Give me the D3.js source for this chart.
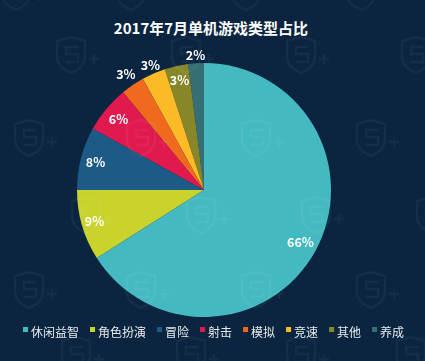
<!DOCTYPE html>
<html>
<head>
<meta charset="utf-8">
<script src="https://cdn.jsdelivr.net/npm/d3@7"></script>
<style>
  html, body { margin: 0; padding: 0; background: #0b2540; }
  svg { display: block; font-family: "Noto Sans CJK SC", "Noto Sans", sans-serif; }
</style>
</head>
<body>
<div id="chart"></div>
<script>
// data
var categories = ["休闲益智", "角色扮演", "冒险", "射击", "模拟", "竞速", "其他", "养成"];
var shares = [66, 9, 8, 6, 3, 3, 3, 2];
var colors = ["#45b9c1", "#c9d32b", "#1d5a86", "#e01a4f", "#ef6a1d", "#fcbb26", "#878729", "#356e75"];

var width = 425, height = 361;
var cx = 204, cy = 190, radius = 127;
// label distance from centre, inside vs outside the rim
var labelR = [110, 114, 112, 111, 139, 135, 112, 135];

var svg = d3.select("#chart").append("svg")
  .attr("width", width)
  .attr("height", height);

svg.append("rect")
  .attr("width", width)
  .attr("height", height)
  .attr("fill", "#0b2540");

// title
svg.append("text")
  .attr("x", 211)
  .attr("y", 34)
  .attr("text-anchor", "middle")
  .attr("font-size", 15)
  .attr("font-weight", "bold")
  .attr("fill", "#ffffff")
  .text("2017年7月单机游戏类型占比");

var data = categories.map((c, i) => ({ name: c, value: shares[i], color: colors[i], lr: labelR[i] }));

var pie = d3.pie()
  .value(d => d.value)
  .sort(null);

var arc = d3.arc()
  .innerRadius(0)
  .outerRadius(radius);

var arcs = pie(data);

var pieGroup = svg.append("g")
  .attr("transform", "translate(" + cx + "," + cy + ")");

pieGroup.selectAll("path")
  .data(arcs)
  .enter()
  .append("path")
  .attr("d", arc)
  .attr("fill", d => d.data.color);

// faint watermark shields over everything (paths only)
var marks = [];
[[-8, [20, 135, 250, 365]], [55, [-35, 75, 190, 305, 420]], [138, [33, 145, 260, 375]],
 [215, [-25, 90, 205, 320, 435]], [290, [33, 145, 260, 375]], [355, [80, 195, 305, 415]]]
  .forEach(function(row) { row[1].forEach(function(x) { marks.push([x, row[0]]); }); });

var wm = svg.append("g").attr("opacity", 0.045);
var wg = wm.selectAll("g").data(marks).enter().append("g")
  .attr("transform", d => "translate(" + d[0] + "," + d[1] + ")");
wg.append("path")
  .attr("d", "M-18,-14 L-4,-18 L10,-14 L10,2 Q10,12 -4,18 Q-18,12 -18,2 Z")
  .attr("fill", "none").attr("stroke", "#ffffff").attr("stroke-width", 2.5);
wg.append("path")
  .attr("d", "M3,-8 L-9,-8 L-9,-1 L3,-1 L3,7 L-9,7")
  .attr("fill", "none").attr("stroke", "#ffffff").attr("stroke-width", 2.5);
wg.append("path")
  .attr("d", "M14,4 L24,4 M19,-1 L19,9")
  .attr("fill", "none").attr("stroke", "#ffffff").attr("stroke-width", 2.5);

pieGroup.raise();
pieGroup.selectAll("path").lower();
wm.raise();

var labelGroup = svg.append("g")
  .attr("transform", "translate(" + cx + "," + cy + ")");

labelGroup.selectAll(".lbl")
  .data(arcs)
  .enter()
  .append("text")
  .attr("class", "lbl")
  .attr("transform", d => {
    var a = (d.startAngle + d.endAngle) / 2;
    return "translate(" + (Math.sin(a) * d.data.lr) + "," + (-Math.cos(a) * d.data.lr) + ")";
  })
  .attr("text-anchor", "middle")
  .attr("dy", "0.35em")
  .attr("font-size", 12.5)
  .attr("font-weight", "bold")
  .attr("fill", "#ffffff")
  .text(d => d.data.value + "%");

// legend
var legend = svg.append("g").attr("transform", "translate(0,337)");
var items = legend.selectAll("g").data(data).enter().append("g");
items.append("rect")
  .attr("x", 0).attr("y", -10)
  .attr("width", 5).attr("height", 5)
  .attr("fill", d => d.color);
items.append("text")
  .attr("x", 8)
  .attr("y", 0)
  .attr("font-size", 12)
  .attr("fill", "#e8eaec")
  .text(d => d.name);

var xpos = 23;
items.each(function() {
  var w = d3.select(this).select("text").node().getComputedTextLength();
  d3.select(this).attr("transform", "translate(" + xpos + ",0)");
  xpos += 8 + w + 11;
});
</script>
</body>
</html>
